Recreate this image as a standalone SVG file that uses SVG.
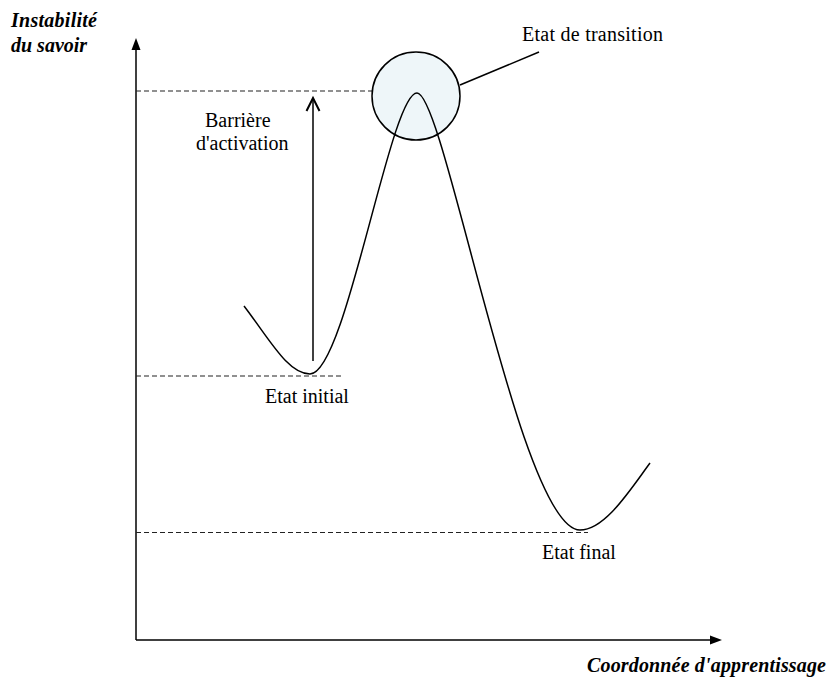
<svg xmlns="http://www.w3.org/2000/svg" width="828" height="682" viewBox="0 0 828 682">
<style>
.t{font-family:"Liberation Serif","Times New Roman",serif;font-size:20px;fill:#000}
.ax{font-family:"Liberation Serif","Times New Roman",serif;font-size:20px;font-weight:bold;font-style:italic;fill:#000}
.dash{stroke:#222;stroke-width:1.2;stroke-dasharray:5 3;fill:none}
.ln{stroke:#000;stroke-width:1.5;fill:none}
</style>
<rect width="828" height="682" fill="#fff"/>
<g id="axes">
<line class="ln" x1="136" y1="48" x2="136" y2="640"/>
<polygon points="136,38 131.5,50 140.5,50" fill="#000"/>
<line class="ln" x1="136" y1="640" x2="712" y2="640"/>
<polygon points="722,640 710,635.5 710,644.5" fill="#000"/>
<text class="ax" x="11" y="27" textLength="86">Instabilité</text>
<text class="ax" x="11" y="52">du savoir</text>
<text class="ax" x="587" y="672" textLength="239">Coordonnée d'apprentissage</text>
</g>
<g id="levels">
<line class="dash" x1="136" y1="91" x2="421" y2="91"/>
<line class="dash" x1="136" y1="376" x2="342" y2="376"/>
<line class="dash" x1="136" y1="532.5" x2="588" y2="532.5"/>
</g>
<g id="transition">
<circle cx="416" cy="96" r="44" fill="#eef6f9" stroke="#000" stroke-width="1.5"/>
<line class="ln" x1="460" y1="85" x2="539" y2="52"/>
<text class="t" x="522" y="41" textLength="141">Etat de transition</text>
</g>
<g id="curve">
<path class="ln" d="M244,306 C270,340 288,374 310,374 C346,374 390,93 417,93 C445,93 520,530 580,530 C605,530 630,490 650,463"/>
</g>
<g id="barrier">
<line class="ln" x1="313" y1="361" x2="313" y2="99"/>
<polyline points="306.5,111 313,98 319.5,111" fill="none" stroke="#000" stroke-width="2"/>
<text class="t" x="205" y="127">Barrière</text>
<text class="t" x="196" y="150">d'activation</text>
</g>
<g id="labels">
<text class="t" x="265" y="403">Etat initial</text>
<text class="t" x="542" y="559">Etat final</text>
</g>
</svg>
